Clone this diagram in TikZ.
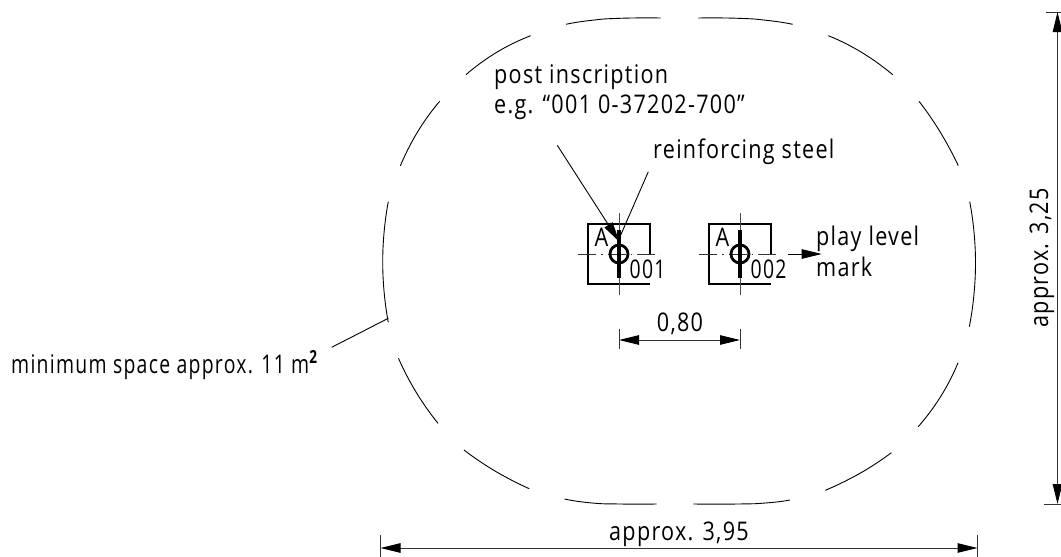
\documentclass[tikz,border=0pt]{standalone}
\usepackage{fontspec}
\setmainfont[FakeStretch=0.84,LetterSpace=5]{Open Sans}
\newfontfamily\tightfont[FakeStretch=0.755,LetterSpace=5]{Open Sans}
\usetikzlibrary{arrows.meta}
\tikzset{
    thinline/.style={line width=0.9pt},
    outline/.style={thinline},
    dimline/.style={line width=1pt,black!80},
    headline/.style={thinline,-{Triangle[length=20pt,width=9.5pt,black]}},
    dimarrow/.style={dimline,{Triangle[length=20pt,width=9.5pt,black]}-{Triangle[length=20pt,width=9.5pt,black]}},
    boxline/.style={line width=2.2pt},
    txt/.style={inner sep=0pt,anchor=base west,font=\fontsize{25.7}{25.7}\selectfont},
}
\begin{document}
\begin{tikzpicture}[x=1pt,y=-1pt]
    \useasboundingbox(0,0)rectangle(1061,557);
    % dashed outline of the space
    \draw[outline]plot[smooth,tension=1]coordinates{(566,24.3)(590,20.5)(620,18.3)(660.7,18)};
    \draw[outline]plot[smooth,tension=1]coordinates{(698.3,18)(738,18.3)(768,20.5)(792.7,24.3)};
    \draw[outline]plot[smooth,tension=1]coordinates{(828.3,35.7)(861.5,52.3)(892.7,74.7)};
    \draw[outline]plot[smooth,tension=1]coordinates{(919,101.3)(940,131.7)(958.3,165.7)};
    \draw[outline]plot[smooth,tension=1]coordinates{(969.7,201.7)(975.5,264)(969.3,326.7)};
    \draw[outline]plot[smooth,tension=1]coordinates{(958,362.7)(941,396)(918.2,426.7)};
    \draw[outline]plot[smooth,tension=1]coordinates{(891.3,452.7)(860.5,473)(825.3,490.3)};
    \draw[outline]plot[smooth,tension=1]coordinates{(789.8,500)(768,502.8)(738,504)(693.3,504)};
    \draw[outline]plot[smooth,tension=1]coordinates{(656.6,504)(620,504)(590,502.8)(564.5,499)};
    \draw[outline]plot[smooth,tension=1]coordinates{(529.3,488.7)(495,471)(464,450)};
    \draw[outline]plot[smooth,tension=1]coordinates{(438,423.3)(416,392)(398.5,358.3)};
    \draw[outline]plot[smooth,tension=1]coordinates{(388.3,322.3)(382.7,262)(388.3,201.7)};
    \draw[outline]plot[smooth,tension=1]coordinates{(400.3,166)(417.7,131.7)(439.7,101.3)};
    \draw[outline]plot[smooth,tension=1]coordinates{(466,74.7)(496.7,52.3)(530.7,35.7)};

    % posts
    \foreach \name/\cx/\num in {a/619/001,b/740/002}{
        \begin{scope}[shift={(\cx,254)}]
            \coordinate(post\name)at(0,0);
            \draw[boxline](30.7,0)--(30.7,-30)--(-30.7,-30)--(-30.7,30.3)--(30.7,30.3);
            \draw[thinline,black!70](0,-41)--(0,41);
            \draw[thinline,black!80,dash pattern=on 18pt off 5pt on 1.5pt off 5pt](-41,0)--(41,0);
            \draw[line width=3.5pt](0,-24)--(0,24.3);
            \draw[line width=2.8pt](0,0)circle(9);
            \node[txt](A\name)at(-24.5,-8){A};
            \node[txt](num\name)at(10.5,24){\tightfont\num};
        \end{scope}
    }

    % texts
    \node[txt](inscr)at(494,83){post inscription};
    \node[txt](eg)at(494,113){e.g. “001 0-37202-700”};
    \node[txt](steel)at(653,158){reinforcing steel};
    \node[txt](play)at(816,245){play level};
    \node[txt](mark)at(816,276.7){mark};
    \node[txt](space)at(11,373){\tightfont minimum space approx. 11 m\textsuperscript{\textbf{2}}};

    % leaders
    \coordinate(inscrS)at(557.3,145.3);
    \coordinate(inscrE)at(619.3,241.7);
    \coordinate(steelS)at(648.3,171.7);
    \coordinate(steelE)at(620,236.7);
    \coordinate(playS)at(787.7,254);
    \coordinate(playE)at(821.7,254);
    \coordinate(spaceS)at(331.7,347.3);
    \coordinate(spaceE)at(388.3,318.3);
    \draw[headline](inscrS)--(inscrE);
    \draw[thinline](steelS)--(steelE);
    \draw[headline](playS)--(playE);
    \draw[thinline](spaceS)--(spaceE);

    % dimensions
    \coordinate(gapL)at(619,340);
    \coordinate(gapR)at(740,340);
    \coordinate(wideL)at(380.5,548);
    \coordinate(wideR)at(977.5,548);
    \coordinate(highT)at(1057.5,12);
    \coordinate(highB)at(1057.5,504);
    \draw[dimarrow](gapL)--(gapR);
    \draw[dimarrow](wideL)--(wideR);
    \draw[dimarrow](highT)--(highB);
    \draw[dimline](619,329.3)--(619,349.3);
    \draw[dimline](740,329.3)--(740,349.3);
    \draw[dimline](380.5,535)--(380.5,557);
    \draw[dimline](977.5,535)--(977.5,557);
    \draw[dimline](1046,12)--(1061,12);
    \draw[dimline](1044,504)--(1061,504);
    \node[txt,anchor=base](gap)at(680,331.7){0,80};
    \node[txt,anchor=base](wide)at(679,540){approx. 3,95};
    \node[txt,anchor=base,rotate=90](high)at(1048,258){approx. 3,25};
\end{tikzpicture}
\end{document}
